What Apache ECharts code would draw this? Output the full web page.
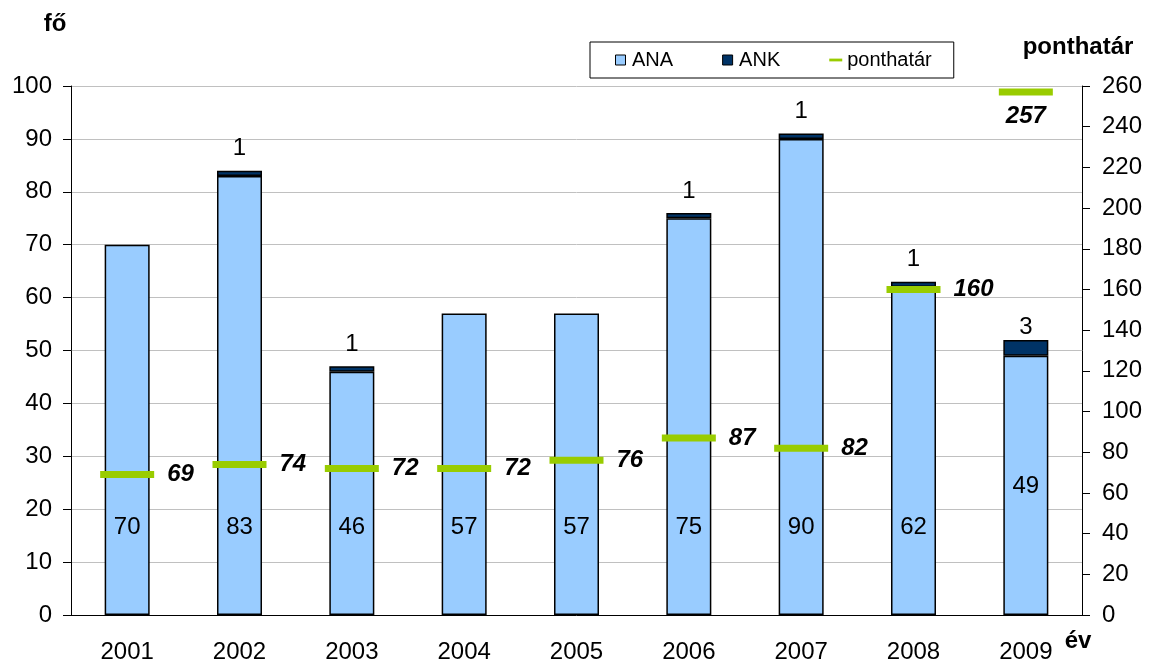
<!DOCTYPE html>
<html>
<head>
<meta charset="utf-8">
<script src="https://cdn.jsdelivr.net/npm/echarts@6/dist/echarts.min.js"></script>
<style>
  html, body { margin: 0; padding: 0; background: #fff; }
  #chart { width: 1149px; height: 667px; }
</style>
</head>
<body>
<div id="chart"></div>
<script>
// years on the x axis
const years = ['2001', '2002', '2003', '2004', '2005', '2006', '2007', '2008', '2009'];
// fő (left axis)
const ana = [70, 83, 46, 57, 57, 75, 90, 62, 49];
const ank = [0, 1, 1, 0, 0, 1, 1, 1, 3];
// ponthatár (right axis)
const ponthatar = [69, 74, 72, 72, 76, 87, 82, 160, 257];

const font = 'Liberation Sans, Arial, sans-serif';

const chart = echarts.init(document.getElementById('chart'));

const anaData = ana.map((v, i) => {
    // the 2009 label sits higher in the original
    if (i === 8) return { value: v, label: { distance: 117 } };
    return v;
});
const ankData = ank.map((v, i) => {
    if (v === 0) return '-';
    if (i === 8) return { value: v, label: { distance: 1 } };
    return v;
});
const pontData = ponthatar.map((v, i) => {
    if (i === 8) return { value: v, label: { position: 'bottom', distance: 9 } };
    return v;
});

chart.setOption({
    animation: false,
    textStyle: { fontFamily: font, color: '#000' },
    grid: { left: 71, right: 67, top: 86, bottom: 52 },
    legend: {
        left: 590,
        top: 42,
        padding: [8, 22, 8, 25],
        itemGap: 49,
        itemWidth: 13,
        itemHeight: 10,
        borderColor: '#000',
        borderWidth: 1,
        backgroundColor: '#fff',
        textStyle: { fontSize: 20, color: '#000', fontFamily: font },
        data: [
            { name: 'ANA', icon: 'path://M0,0H9V9H0Z', itemStyle: { color: '#99ccff', borderColor: '#000', borderWidth: 1 } },
            { name: 'ANK', icon: 'path://M0,0H9V9H0Z', itemStyle: { color: '#003366', borderColor: '#000', borderWidth: 1 } },
            { name: 'ponthatár', icon: 'path://M0,0H14V3H0Z', itemStyle: { color: '#99cc00' } }
        ]
    },
    xAxis: {
        type: 'category',
        data: years,
        name: 'év',
        nameLocation: 'end',
        nameGap: -4,
        nameMoveOverlap: false,
        nameTextStyle: { fontSize: 24, fontWeight: 'bold', align: 'center', verticalAlign: 'top', padding: [14, 0, 0, 0] },
        axisLine: { lineStyle: { color: '#000', width: 1 } },
        axisTick: { length: 7, lineStyle: { color: '#000' } },
        axisLabel: { fontSize: 24, color: '#000', margin: 25 }
    },
    yAxis: [
        {
            type: 'value',
            min: 0,
            max: 100,
            interval: 10,
            name: 'fő',
            nameLocation: 'end',
            nameGap: 50,
            nameMoveOverlap: false,
            nameTextStyle: { fontSize: 24, fontWeight: 'bold', align: 'center', padding: [0, 32, 0, 0] },
            axisLine: { show: true, lineStyle: { color: '#000' } },
            axisTick: { show: true, length: 8, lineStyle: { color: '#000' } },
            axisLabel: { fontSize: 24, color: '#000', margin: 19 },
            splitLine: { lineStyle: { color: '#c0c0c0', width: 1 } }
        },
        {
            type: 'value',
            min: 0,
            max: 260,
            interval: 20,
            position: 'right',
            name: 'ponthatár',
            nameLocation: 'end',
            nameGap: 27,
            nameMoveOverlap: false,
            nameTextStyle: { fontSize: 24, fontWeight: 'bold', align: 'center', padding: [0, 8, 0, 0] },
            axisLine: { show: true, lineStyle: { color: '#000' } },
            axisTick: { show: true, length: 8, lineStyle: { color: '#000' } },
            axisLabel: { fontSize: 24, color: '#000', margin: 20 },
            splitLine: { show: false }
        }
    ],
    series: [
        {
            name: 'ANA',
            type: 'bar',
            stack: 'fo',
            barWidth: 45,
            data: anaData,
            itemStyle: { color: '#99ccff', borderColor: '#000', borderWidth: 1.5 },
            label: { show: true, position: 'insideBottom', distance: 76, fontSize: 24, color: '#000', fontFamily: font }
        },
        {
            name: 'ANK',
            type: 'bar',
            stack: 'fo',
            barWidth: 45,
            data: ankData,
            itemStyle: { color: '#003366', borderColor: '#000', borderWidth: 1.5 },
            label: { show: true, position: 'top', distance: 10, fontSize: 24, color: '#000', fontFamily: font }
        },
        {
            name: 'ponthatár',
            type: 'scatter',
            yAxisIndex: 1,
            symbol: 'rect',
            symbolSize: [54, 7],
            z: 5,
            data: pontData,
            itemStyle: { color: '#99cc00', opacity: 1 },
            label: {
                show: true,
                position: 'right',
                distance: 13,
                fontSize: 24,
                fontWeight: 'bold',
                fontStyle: 'italic',
                color: '#000',
                fontFamily: font
            }
        }
    ]
});
</script>
</body>
</html>
